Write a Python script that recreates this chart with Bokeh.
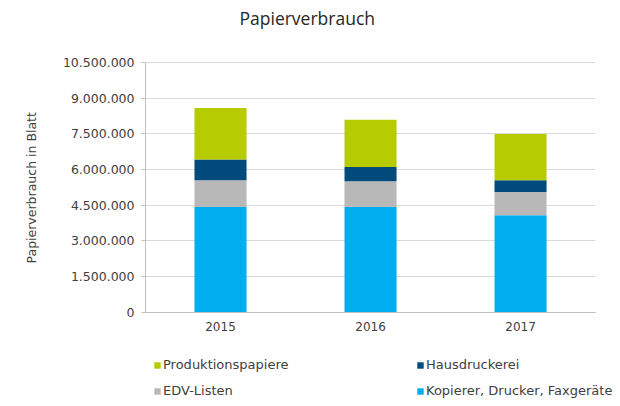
from bokeh.plotting import figure
from bokeh.models import (ColumnDataSource, Range1d, FixedTicker, Title,
                          CustomJSTickFormatter, Legend, LegendItem)
from bokeh.embed import file_html
from bokeh.resources import INLINE

# ---- data ----
years = ["2015", "2016", "2017"]
kopierer = [4420000, 4420000, 4070000]      # Kopierer, Drucker, Faxgeräte
edv = [1120000, 1080000, 980000]             # EDV-Listen
haus = [880000, 600000, 490000]              # Hausdruckerei
produktion = [2170000, 1990000, 1950000]     # Produktionspapiere
y_ticks = [0, 1500000, 3000000, 4500000, 6000000, 7500000, 9000000, 10500000]

series_keys = ["kopierer", "edv", "haus", "produktion"]
series_labels = ["Kopierer, Drucker, Faxgeräte", "EDV-Listen", "Hausdruckerei", "Produktionspapiere"]
series_colors = ["#00AEEF", "#B8B8B8", "#004A7C", "#B7CC00"]

xpos = [i + 0.5 for i in range(len(years))]
source = ColumnDataSource(data=dict(x=xpos, kopierer=kopierer, edv=edv,
                                    haus=haus, produktion=produktion))

FONT = "DejaVu Sans"
TXT = "#404040"

# ---- layout constants (pixels) ----
W, H = 620, 406
LEFT, RIGHT, TOP, BOTTOM = 144, 0, 32, 0
AX_RIGHT_PX = 595          # where the category axis ends
Y0_PX, YMAX_PX = 311.5, 62  # pixel rows of value 0 and top tick
frame_w = W - LEFT - RIGHT
frame_b = H - BOTTOM
ymax = y_ticks[-1]
ncat = len(years)
px_per_cat = (AX_RIGHT_PX - LEFT) / ncat
units_per_px = ymax / (Y0_PX - YMAX_PX)
x_end = frame_w / px_per_cat
y_start = -(frame_b - Y0_PX) * units_per_px
y_end = ymax + (YMAX_PX - TOP) * units_per_px

p = figure(width=W, height=H, x_range=Range1d(0, x_end),
           y_range=Range1d(y_start, y_end), output_backend="svg",
           toolbar_location=None, min_border_left=LEFT, min_border_right=RIGHT,
           min_border_top=TOP, min_border_bottom=BOTTOM)

renderers = p.vbar_stack(series_keys, x="x", width=0.347, color=series_colors,
                         line_color=None, source=source)

# title
p.title.text = "Papierverbrauch"
p.title.align = "left"
p.title.offset = 94
p.title.standoff = 6
p.title.text_font = "Open Sans"
p.title.text_font_size = "17.5px"
p.title.text_font_style = "normal"
p.title.text_color = "#262626"

p.outline_line_color = None
p.xgrid.grid_line_color = None
p.ygrid.grid_line_color = "#D9D9D9"
p.ygrid.ticker = FixedTicker(ticks=y_ticks)
p.ygrid.bounds = (0, ymax)
if "cross_bounds" in p.ygrid[0].properties():
    p.ygrid.cross_bounds = (0, ncat)

ya = p.yaxis[0]
ya.ticker = FixedTicker(ticks=y_ticks)
ya.bounds = (0, ymax)
ya.formatter = CustomJSTickFormatter(
    code='return tick.toFixed(0).replace(/\\B(?=(\\d{3})+(?!\\d))/g, ".");')
ya.axis_line_color = "#BFBFBF"
ya.major_tick_line_color = "#BFBFBF"
ya.major_tick_out = 4
ya.major_tick_in = 0
ya.minor_tick_line_color = None
ya.major_label_standoff = 7
ya.major_label_text_font = FONT
ya.major_label_text_font_size = "12.5px"
ya.major_label_text_color = TXT

xa = p.xaxis[0]
xa.ticker = FixedTicker(ticks=xpos)
xa.formatter = CustomJSTickFormatter(args=dict(labels=years),
                                     code="return labels[Math.round(tick - 0.5)];")
xa.fixed_location = 0
xa.bounds = (0, ncat)
xa.axis_line_color = "#BFBFBF"
xa.major_tick_line_color = None
xa.major_tick_out = 0
xa.major_tick_in = 0
xa.minor_tick_line_color = None
xa.major_label_standoff = 10
xa.major_label_text_font = FONT
xa.major_label_text_font_size = "12px"
xa.major_label_text_color = TXT

# y axis title (rotated, in the left panel)
ytitle = Title(text="Papierverbrauch in Blatt", align="left", offset=143,
               standoff=42, vertical_align="bottom", text_font=FONT,
               text_font_size="12.5px", text_font_style="normal", text_color=TXT)
p.add_layout(ytitle, "left")

r_kop, r_edv, r_haus, r_prod = renderers


def make_legend(items, loc):
    lg = Legend(items=items, location=loc, orientation="vertical")
    lg.border_line_color = None
    lg.background_fill_alpha = 0
    lg.padding = 0
    lg.margin = 0
    lg.spacing = 11
    lg.glyph_width = 8
    lg.glyph_height = 8
    lg.label_standoff = 2
    lg.label_text_font = FONT
    lg.label_text_font_size = "13px"
    lg.label_text_color = TXT
    return lg


leg1 = make_legend([LegendItem(label=series_labels[3], renderers=[r_prod]),
                    LegendItem(label=series_labels[1], renderers=[r_edv])], (8, 8))
leg2 = make_legend([LegendItem(label=series_labels[2], renderers=[r_haus]),
                    LegendItem(label=series_labels[0], renderers=[r_kop])], (271, 8))
p.add_layout(leg1, "center")
p.add_layout(leg2, "center")

open("out.html", "w").write(file_html(p, INLINE))
